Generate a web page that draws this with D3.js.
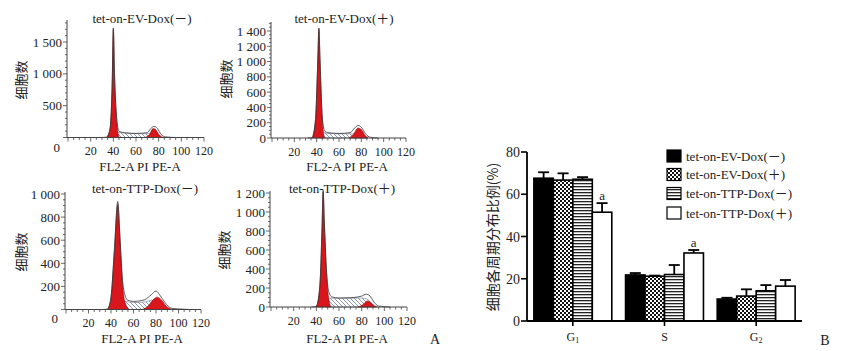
<!DOCTYPE html>
<html>
<head>
    <meta charset="utf-8">
    <title>Cell cycle</title>
    <style>
        body { margin: 0; background: #fff; }
        svg text { font-family: "Liberation Serif", "Times New Roman", Times, "Noto Sans CJK SC", serif; fill: #222; }
        svg text.cjk { font-family: "Noto Sans CJK SC", sans-serif; }
    </style>
</head>
<body>
    <div id="chart"></div>

    <script src="https://cdnjs.cloudflare.com/ajax/libs/d3/7.8.5/d3.min.js"></script>
    <script>
        // ---- data ----
        const groupNames = ["tet-on-EV-Dox(－)", "tet-on-EV-Dox(＋)", "tet-on-TTP-Dox(－)", "tet-on-TTP-Dox(＋)"];
        const histXTicks = [20, 40, 60, 80, 100, 120];
        const histYTicks = [
            [0, 500, 1000, 1500],
            [0, 200, 400, 600, 800, 1000, 1200, 1400],
            [0, 200, 400, 600, 800, 1000],
            [0, 200, 400, 600, 800, 1000, 1200]
        ];

        // histogram outlines: [PI intensity, cell count]
        const g1Peaks = [
            [[34, 0], [37, 120], [39, 850], [40, 1700], [41, 1000], [43, 250], [45, 0]],
            [[36, 0], [39, 250], [41, 1000], [42, 1420], [43, 1000], [45, 250], [47, 0]],
            [[37, 0], [40, 100], [43, 500], [46, 910], [48, 600], [50, 250], [52, 80], [56, 0]],
            [[40, 0], [43, 200], [45, 800], [46, 1210], [47, 900], [49, 350], [51, 80], [53, 0]]
        ];
        const sPhase = [
            [[42, 0], [44, 80], [50, 70], [60, 60], [70, 60], [75, 60], [80, 30], [84, 0]],
            [[44, 0], [46, 70], [50, 60], [60, 55], [70, 55], [75, 50], [82, 20], [86, 0]],
            [[50, 0], [52, 70], [60, 60], [70, 65], [76, 80], [80, 70], [86, 30], [92, 0]],
            [[49, 0], [51, 95], [60, 90], [70, 92], [80, 95], [85, 80], [90, 30], [94, 0]]
        ];
        const g2Peaks = [
            [[68, 0], [72, 50], [75, 140], [77, 130], [80, 50], [83, 0]],
            [[69, 0], [73, 50], [77, 130], [80, 110], [83, 40], [86, 0]],
            [[68, 0], [73, 30], [78, 90], [81, 107], [85, 80], [89, 30], [94, 0]],
            [[77, 0], [81, 25], [85, 63], [88, 45], [91, 10], [93, 0]]
        ];
        const totals = [
            [[30, 0], [34, 5], [37, 130], [39, 860], [40, 1720], [41, 1020], [43, 300], [45, 100], [50, 75], [60, 65], [70, 75], [73, 140], [76, 175], [79, 140], [82, 50], [86, 10], [95, 0]],
            [[32, 0], [36, 5], [39, 250], [41, 1010], [42, 1440], [43, 1020], [45, 280], [47, 100], [50, 70], [60, 60], [70, 70], [74, 130], [77, 165], [80, 140], [84, 50], [88, 10], [95, 0]],
            [[33, 0], [37, 5], [40, 110], [43, 520], [46, 935], [48, 620], [50, 280], [52, 140], [55, 80], [60, 70], [70, 85], [76, 130], [80, 160], [83, 130], [88, 60], [94, 10], [100, 5], [110, 0]],
            [[36, 0], [40, 5], [43, 210], [45, 820], [46, 1230], [47, 920], [49, 380], [51, 160], [54, 105], [60, 95], [70, 98], [80, 115], [84, 135], [87, 120], [91, 50], [95, 10], [105, 0]]
        ];

        // bar chart: phase percentages (mean, upper error)
        const phases = ["G1", "S", "G2"];
        const barYTicks = [0, 20, 40, 60, 80];
        const evMinusMean = [67.6, 21.8, 10.4];
        const evMinusErr = [2.8, 0.9, 0.6];
        const evPlusMean = [66.7, 21.2, 11.8];
        const evPlusErr = [3.2, 0.3, 3.2];
        const ttpMinusMean = [67.1, 22.0, 14.3];
        const ttpMinusErr = [1.0, 4.5, 2.7];
        const ttpPlusMean = [51.5, 32.2, 16.5];
        const ttpPlusErr = [4.3, 1.4, 2.9];
        const ttpPlusSig = ["a", "a", ""];

        // ---- layout ----
        const width = 849, height = 351;
        const svg = d3.select("#chart").append("svg")
            .attr("width", width).attr("height", height);

        const defs = svg.append("defs");
        const hatch = defs.append("pattern").attr("id", "hatch")
            .attr("patternUnits", "userSpaceOnUse").attr("width", 4).attr("height", 4);
        hatch.append("rect").attr("width", 4).attr("height", 4).attr("fill", "#fff");
        hatch.append("path").attr("d", "M-1,-1L5,5M3,-1L5,1M-1,3L1,5")
            .attr("stroke", "#5a6a8c").attr("stroke-width", 0.7);

        const checker = defs.append("pattern").attr("id", "checker")
            .attr("patternUnits", "userSpaceOnUse").attr("width", 4).attr("height", 4);
        checker.append("rect").attr("width", 4).attr("height", 4).attr("fill", "#fff");
        checker.append("rect").attr("width", 2).attr("height", 2).attr("fill", "#111");
        checker.append("rect").attr("x", 2).attr("y", 2).attr("width", 2).attr("height", 2).attr("fill", "#111");

        const stripes = defs.append("pattern").attr("id", "stripes")
            .attr("patternUnits", "userSpaceOnUse").attr("width", 4).attr("height", 3);
        stripes.append("rect").attr("width", 4).attr("height", 3).attr("fill", "#fff");
        stripes.append("rect").attr("width", 4).attr("height", 1.3).attr("fill", "#222");

        const fmt = d3.formatLocale({ decimal: ".", thousands: " ", grouping: [3], currency: ["", ""] }).format(",d");

        const panels = [
            { xr: [68, 204], base: 137.5, topY: 42, axisTop: 20, minor: 100, zeroDx: -2, zeroDy: 10,
              title: [142, 19], yLab: [22, 80], xLab: [140, 166] },
            { xr: [272, 406], base: 138, topY: 31, axisTop: 22, minor: 50, zeroDx: 0, zeroDy: 0,
              title: [344, 19], yLab: [227, 79], xLab: [347, 166] },
            { xr: [66, 201], base: 309.5, topY: 194, axisTop: 192, minor: 50, zeroDx: -2, zeroDy: 9,
              title: [145, 189], yLab: [22, 252], xLab: [142, 338] },
            { xr: [271, 407], base: 307, topY: 193, axisTop: 191, minor: 50, zeroDx: 0, zeroDy: 0,
              title: [342, 189], yLab: [225, 250], xLab: [347, 338] }
        ];

        panels.forEach((p, i) => {
            const g = svg.append("g");
            const ticks = histYTicks[i];
            const x = d3.scaleLinear().domain([0, 120]).range(p.xr);
            const y = d3.scaleLinear().domain([0, ticks[ticks.length - 1]]).range([p.base, p.topY]);
            const ax = p.xr[0] - 1;

            const area = d3.area().x(d => x(d[0])).y0(p.base).y1(d => y(d[1])).curve(d3.curveMonotoneX);
            const line = d3.line().x(d => x(d[0])).y(d => y(d[1])).curve(d3.curveMonotoneX);

            g.append("path").attr("d", area(sPhase[i])).attr("fill", "url(#hatch)")
                .attr("stroke", "#6a7896").attr("stroke-width", 0.6);
            g.append("path").attr("d", area(g1Peaks[i])).attr("fill", "#d8161c")
                .attr("stroke", "#8a0c0c").attr("stroke-width", 0.6);
            g.append("path").attr("d", area(g2Peaks[i])).attr("fill", "#d8161c")
                .attr("stroke", "#8a0c0c").attr("stroke-width", 0.6);
            g.append("path").attr("d", line(totals[i])).attr("fill", "none")
                .attr("stroke", "#333").attr("stroke-width", 0.8);

            // y axis
            g.append("line").attr("x1", ax).attr("x2", ax).attr("y1", p.axisTop).attr("y2", p.base)
                .attr("stroke", "#444").attr("stroke-width", 1);
            const topVal = y.invert(p.axisTop);
            d3.range(0, topVal, p.minor).forEach(v => {
                const major = ticks.includes(v);
                g.append("line").attr("x1", ax - (major ? 4 : 2)).attr("x2", ax)
                    .attr("y1", y(v)).attr("y2", y(v)).attr("stroke", "#444").attr("stroke-width", 0.8);
            });
            ticks.forEach(v => {
                g.append("text").attr("text-anchor", "end").attr("font-size", 13)
                    .attr("x", ax - 5 + (v === 0 ? p.zeroDx : 0))
                    .attr("y", y(v) + 4.5 + (v === 0 ? p.zeroDy : 0))
                    .text(fmt(v));
            });

            // x axis
            g.append("line").attr("x1", ax).attr("x2", x(120)).attr("y1", p.base).attr("y2", p.base)
                .attr("stroke", "#444").attr("stroke-width", 1);
            d3.range(0, 121, 5).forEach(v => {
                const major = v % 20 === 0;
                g.append("line").attr("x1", x(v)).attr("x2", x(v))
                    .attr("y1", p.base).attr("y2", p.base + (major ? 4 : 2.5))
                    .attr("stroke", "#444").attr("stroke-width", 0.8);
            });
            histXTicks.forEach(v => {
                g.append("text").attr("text-anchor", "middle").attr("font-size", 12)
                    .attr("x", x(v)).attr("y", p.base + 17.5).text(v);
            });

            g.append("text").attr("text-anchor", "middle").attr("font-size", 13)
                .attr("x", p.title[0]).attr("y", p.title[1] + 4).text(groupNames[i]);
            g.append("text").attr("text-anchor", "middle").attr("font-size", 13)
                .attr("x", p.xLab[0]).attr("y", p.xLab[1] + 5).text("FL2-A PI PE-A");
            g.append("text").attr("class", "cjk").attr("text-anchor", "middle").attr("font-size", 13)
                .attr("transform", `translate(${p.yLab[0] + 4},${p.yLab[1]}) rotate(-90)`)
                .attr("fill", "#333").text("细胞数");
        });

        svg.append("text").attr("x", 435).attr("y", 344).attr("text-anchor", "middle")
            .attr("font-size", 14).text("A");

        // ---- bar chart B ----
        const series = [
            { mean: evMinusMean, err: evMinusErr, fill: "#000", sig: ["", "", ""] },
            { mean: evPlusMean, err: evPlusErr, fill: "url(#checker)", sig: ["", "", ""] },
            { mean: ttpMinusMean, err: ttpMinusErr, fill: "url(#stripes)", sig: ["", "", ""] },
            { mean: ttpPlusMean, err: ttpPlusErr, fill: "#fff", sig: ttpPlusSig }
        ];

        const bx = d3.scaleBand().domain(phases).range([527, 802]).paddingInner(0.15).paddingOuter(0.075);
        const bs = d3.scaleBand().domain(d3.range(series.length)).range([0, bx.bandwidth()]);
        const by = d3.scaleLinear().domain([0, 80]).range([321, 152]);

        const bg = svg.append("g");
        series.forEach((s, k) => {
            phases.forEach((ph, j) => {
                const x0 = bx(ph) + bs(k);
                const w = bs.bandwidth();
                const top = by(s.mean[j]);
                const errTop = by(s.mean[j] + s.err[j]);
                bg.append("line").attr("x1", x0 + w / 2).attr("x2", x0 + w / 2)
                    .attr("y1", top).attr("y2", errTop).attr("stroke", "#000").attr("stroke-width", 1.8);
                bg.append("line").attr("x1", x0 + w / 2 - 5.5).attr("x2", x0 + w / 2 + 5.5)
                    .attr("y1", errTop).attr("y2", errTop).attr("stroke", "#000").attr("stroke-width", 1.8);
                bg.append("rect").attr("x", x0).attr("y", top).attr("width", w).attr("height", by(0) - top)
                    .attr("fill", s.fill).attr("stroke", "#000").attr("stroke-width", 1.6);
                if (s.sig[j]) {
                    bg.append("text").attr("x", x0 + w / 2).attr("y", errTop - 3)
                        .attr("text-anchor", "middle").attr("font-size", 13).text(s.sig[j]);
                }
            });
        });

        // axes
        bg.append("line").attr("x1", 527).attr("x2", 802).attr("y1", by(0)).attr("y2", by(0))
            .attr("stroke", "#000").attr("stroke-width", 1.8);
        bg.append("line").attr("x1", 527).attr("x2", 527).attr("y1", by(80)).attr("y2", by(0))
            .attr("stroke", "#000").attr("stroke-width", 1.8);
        barYTicks.forEach(v => {
            bg.append("line").attr("x1", 521).attr("x2", 527).attr("y1", by(v)).attr("y2", by(v))
                .attr("stroke", "#000").attr("stroke-width", 1.6);
            bg.append("text").attr("x", 520).attr("y", by(v) + 5).attr("text-anchor", "end")
                .attr("font-size", 14).text(v);
        });
        phases.forEach(ph => {
            const cx = bx(ph) + bx.bandwidth() / 2;
            bg.append("line").attr("x1", cx).attr("x2", cx).attr("y1", by(0)).attr("y2", by(0) + 5)
                .attr("stroke", "#000").attr("stroke-width", 1.6);
            const t = bg.append("text").attr("x", cx).attr("y", 341).attr("text-anchor", "middle")
                .attr("font-size", 12);
            t.append("tspan").text(ph[0]);
            if (ph.length > 1) t.append("tspan").attr("font-size", 8).attr("dy", 2).text(ph.slice(1));
        });
        bg.append("text").attr("class", "cjk").attr("text-anchor", "middle").attr("font-size", 14)
            .attr("transform", "translate(498,237) rotate(-90)").attr("fill", "#333")
            .text("细胞各周期分布比例(%)");

        // legend
        const legY = [156, 174.5, 193.5, 213];
        series.forEach((s, k) => {
            bg.append("rect").attr("x", 667).attr("y", legY[k] - 6).attr("width", 14).attr("height", 12)
                .attr("fill", s.fill).attr("stroke", "#000").attr("stroke-width", 1.2);
            bg.append("text").attr("x", 686).attr("y", legY[k] + 4.5).attr("font-size", 13)
                .text(groupNames[k]);
        });

        svg.append("text").attr("x", 825).attr("y", 345).attr("text-anchor", "middle")
            .attr("font-size", 14).text("B");
    </script>
</body>
</html>
